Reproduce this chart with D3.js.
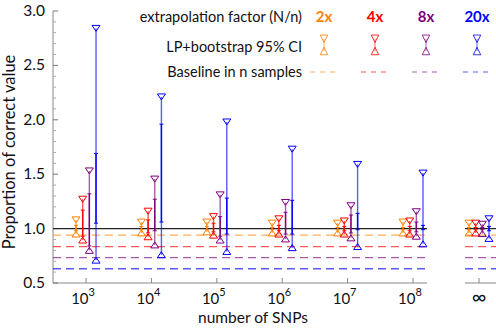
<!DOCTYPE html>
<html>
<head>
<meta charset="utf-8">
<script src="https://cdn.jsdelivr.net/npm/d3@7"></script>
<style>
  body { margin: 0; background: #fff; }
  text { font-family: Lato, "Noto Sans", sans-serif; fill: #111; }
</style>
</head>
<body>
<svg id="chart" width="496" height="330"></svg>
<script>
// exponents of the finite SNP counts, plus the infinite case
const snpExp = [3, 4, 5, 6, 7, 8]
const infLabel = '∞'
const factors = ['2x', '4x', '8x', '20x']
const colors = ['#ff8000', '#ff0000', '#800080', '#0000ff']

// rows: 10^3 ... 10^8, ∞ ; columns: 2x, 4x, 8x, 20x
const ciHigh = [
  [1.08, 1.27, 1.53, 2.84],
  [1.06, 1.16, 1.455, 2.21],
  [1.06, 1.11, 1.31, 1.98],
  [1.05, 1.09, 1.24, 1.73],
  [1.05, 1.07, 1.21, 1.59],
  [1.06, 1.07, 1.155, 1.51],
  [1.05, 1.05, 1.04, 1.09]
]
const ciLow = [
  [0.95, 0.895, 0.80, 0.71],
  [0.96, 0.925, 0.85, 0.76],
  [0.97, 0.94, 0.895, 0.79],
  [0.96, 0.95, 0.905, 0.825],
  [0.96, 0.95, 0.915, 0.835],
  [0.96, 0.95, 0.93, 0.86],
  [0.96, 0.96, 0.955, 0.91]
]
const innerHigh = [
  [1.03, 1.17, 1.32, 1.69],
  [1.02, 1.08, 1.27, 1.96],
  [1.02, 1.05, 1.11, 1.28],
  [1.01, 1.03, 1.15, 1.26],
  [1.01, 1.02, 1.125, 1.14],
  [1.01, 1.02, 1.06, 1.03],
  [1.01, 1.01, 1.01, 1.02]
]
const innerLow = [
  [0.98, 0.93, 0.84, 1.05],
  [0.99, 0.96, 0.98, 1.06],
  [0.99, 0.97, 0.93, 0.95],
  [0.99, 0.98, 0.95, 0.95],
  [0.99, 0.98, 0.96, 0.99],
  [0.99, 0.98, 0.97, 0.99],
  [0.99, 0.99, 0.99, 0.98]
]
// baseline value with n samples, per factor
const baseline = [0.94, 0.834, 0.733, 0.631]

const yTicks = [0.5, 1.0, 1.5, 2.0, 2.5, 3.0]

const svg = d3.select('#chart')
const axisColor = '#888'

const y = d3.scaleLinear().domain([0.5, 3.0]).range([283, 11])
const x = d3.scaleLog().domain([Math.pow(10, 2.495), Math.pow(10, 8.214)]).range([53, 427])
const xInf = d3.scalePoint().domain([infLabel]).range([465, 493]).padding(0.5)
const offset = d3.scalePoint().domain(factors).range([-10, 10])

const panels = [[53, 427], [465, 496]]

// axes
svg.append('line')
  .attr('x1', 53).attr('x2', 53).attr('y1', y(3.0)).attr('y2', y(0.5))
  .attr('stroke', axisColor)
panels.forEach(p => {
  svg.append('line')
    .attr('x1', p[0]).attr('x2', p[1]).attr('y1', y(0.5)).attr('y2', y(0.5))
    .attr('stroke', axisColor)
})
d3.range(5, 31).forEach(i => {
  const v = i / 10
  const major = i % 5 === 0
  svg.append('line')
    .attr('x1', 53).attr('x2', 53 + (major ? 5 : 3))
    .attr('y1', y(v)).attr('y2', y(v))
    .attr('stroke', major ? '#777' : '#aaa')
})
svg.selectAll('.ylab').data(yTicks).enter().append('text')
  .attr('x', 45).attr('y', d => y(d) + 5)
  .attr('text-anchor', 'end').attr('font-size', 15.5)
  .text(d => d.toFixed(1))

const tickX = snpExp.map(e => x(Math.pow(10, e))).concat([xInf(infLabel)])
tickX.forEach(tx => {
  svg.append('line')
    .attr('x1', tx).attr('x2', tx).attr('y1', y(0.5)).attr('y2', y(0.5) - 5)
    .attr('stroke', axisColor)
})
snpExp.forEach(e => {
  const t = svg.append('text')
    .attr('x', x(Math.pow(10, e)) - 3).attr('y', 304)
    .attr('text-anchor', 'middle').attr('font-size', 15)
  t.append('tspan').text('10')
  t.append('tspan').attr('dy', -8).attr('font-size', 11).text(e)
})
svg.append('text')
  .attr('x', xInf(infLabel)).attr('y', 304)
  .attr('text-anchor', 'middle').attr('font-size', 20)
  .text(infLabel)

svg.append('text')
  .attr('x', 253).attr('y', 323)
  .attr('text-anchor', 'middle').attr('font-size', 15.5)
  .text('number of SNPs')
svg.append('text')
  .attr('transform', 'translate(15,152) rotate(-90)')
  .attr('text-anchor', 'middle').attr('font-size', 16.5)
  .text('Proportion of correct value')

// reference lines
panels.forEach(p => {
  baseline.forEach((b, i) => {
    svg.append('line')
      .attr('x1', p[0]).attr('x2', p[1]).attr('y1', y(b)).attr('y2', y(b))
      .attr('stroke', colors[i]).attr('stroke-opacity', 0.65)
      .attr('stroke-width', 1.3).attr('stroke-dasharray', '8,5')
  })
  svg.append('line')
    .attr('x1', p[0]).attr('x2', p[1]).attr('y1', y(1)).attr('y2', y(1))
    .attr('stroke', '#222').attr('stroke-width', 1.2)
})

const triDown = (cx, cy, w, h) => `M${cx - w / 2},${cy - h / 2}L${cx + w / 2},${cy - h / 2}L${cx},${cy + h / 2}Z`
const triUp = (cx, cy, w, h) => `M${cx - w / 2},${cy + h / 2}L${cx + w / 2},${cy + h / 2}L${cx},${cy - h / 2}Z`

const drawBar = (g, cx, hi, lo, ih, il, color) => {
  g.append('line')
    .attr('x1', cx).attr('x2', cx).attr('y1', hi).attr('y2', lo)
    .attr('stroke', color).attr('stroke-opacity', 0.65).attr('stroke-width', 1.4)
  if (ih !== null) {
    g.append('line')
      .attr('x1', cx).attr('x2', cx).attr('y1', ih).attr('y2', il)
      .attr('stroke', color).attr('stroke-width', 1.4)
    ;[ih, il].forEach(v => {
      g.append('line')
        .attr('x1', cx - 2).attr('x2', cx + 2).attr('y1', v).attr('y2', v)
        .attr('stroke', color).attr('stroke-width', 1)
    })
  }
  g.append('path').attr('d', triDown(cx, hi, 8, 6))
    .attr('fill', '#fff').attr('fill-opacity', 0).attr('stroke', color).attr('stroke-width', 1)
  g.append('path').attr('d', triUp(cx, lo, 8, 6))
    .attr('fill', '#fff').attr('fill-opacity', 0).attr('stroke', color).attr('stroke-width', 1)
}

const bars = svg.append('g')
tickX.forEach((tx, r) => {
  factors.forEach((f, c) => {
    drawBar(bars, tx + offset(f), y(ciHigh[r][c]), y(ciLow[r][c]),
      y(innerHigh[r][c]), y(innerLow[r][c]), colors[c])
  })
})

// legend
const legX = d3.scalePoint().domain(factors).range([324, 477])
svg.append('text').attr('x', 302).attr('y', 22).attr('text-anchor', 'end')
  .attr('font-size', 14.5).text('extrapolation factor (N/n)')
svg.append('text').attr('x', 302).attr('y', 52).attr('text-anchor', 'end')
  .attr('font-size', 14.5).text('LP+bootstrap 95% CI')
svg.append('text').attr('x', 302).attr('y', 77).attr('text-anchor', 'end')
  .attr('font-size', 14.5).text('Baseline in n samples')
factors.forEach((f, i) => {
  const lx = legX(f)
  svg.append('text').attr('x', lx).attr('y', 22).attr('text-anchor', 'middle')
    .attr('font-size', 15).attr('font-weight', 'bold').style('fill', colors[i]).text(f)
  svg.append('line').attr('x1', lx).attr('x2', lx).attr('y1', 39).attr('y2', 51)
    .attr('stroke', colors[i]).attr('stroke-opacity', 0.6)
  svg.append('path').attr('d', triDown(lx, 38.8, 7.5, 7.5))
    .attr('fill', 'none').attr('stroke', colors[i]).attr('stroke-opacity', 0.8)
  svg.append('path').attr('d', triUp(lx, 51, 7.5, 7.5))
    .attr('fill', 'none').attr('stroke', colors[i]).attr('stroke-opacity', 0.8)
  svg.append('line').attr('x1', lx - 14).attr('x2', lx + 14).attr('y1', 72).attr('y2', 72)
    .attr('stroke', colors[i]).attr('stroke-opacity', 0.65)
    .attr('stroke-width', 1.2).attr('stroke-dasharray', '5,5')
})
</script>
</body>
</html>
